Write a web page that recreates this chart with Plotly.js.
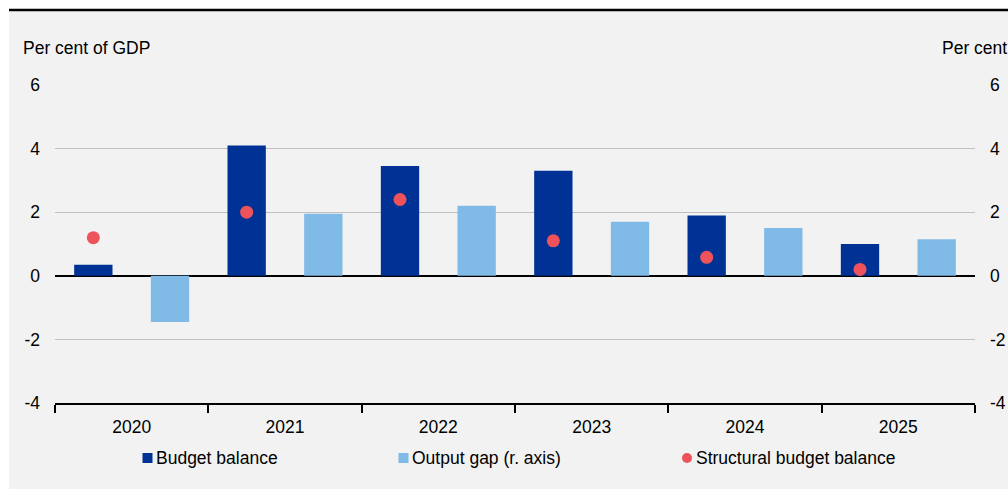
<!DOCTYPE html>
<html>
<head>
<meta charset="utf-8">
<script src="https://cdn.plot.ly/plotly-3.0.1.min.js"></script>
<style>html,body{margin:0;padding:0;background:#fff;}#chart{width:1008px;height:490px;}</style>
</head>
<body>
<div id="chart"></div>
<script>
// ---- data ----
const years = [2020, 2021, 2022, 2023, 2024, 2025];
const budgetBalance = [0.35, 4.1, 3.45, 3.3, 1.9, 1.0];
const outputGap = [-1.45, 1.95, 2.2, 1.7, 1.5, 1.15];
const structuralBalance = [1.2, 2.0, 2.4, 1.1, 0.58, 0.2];
const yTicks = [-4, -2, 0, 2, 4, 6];
const yTickLabels = ['-4', '-2', '0', '2', '4', '6'];
const seriesNames = ['Budget balance', 'Output gap (r. axis)', 'Structural budget balance'];
const axisTitleLeft = 'Per cent of GDP';
const axisTitleRight = 'Per cent';

// ---- style ----
const DARK = '#003296', LIGHT = '#80BAE6', RED = '#EE535B', BG = '#F2F2F2';
const FONT = {family: 'Liberation Sans, Arial, sans-serif', size: 17.5, color: '#000'};
const W = 1008, H = 490, ML = 55, MR = 33, MT = 85, MB = 87;
const PW = W - ML - MR, PH = H - MT - MB;
const px = x => (x - ML) / PW;          // pixel -> paper x
const py = y => (H - MB - y) / PH;      // pixel -> paper y

const traces = [
  {type: 'bar', name: seriesNames[0], x: years, y: budgetBalance, offset: -0.375, width: 0.25,
   marker: {color: DARK}, xaxis: 'x', yaxis: 'y', showlegend: false, hoverinfo: 'x+y'},
  {type: 'bar', name: seriesNames[1], x: years, y: outputGap, offset: 0.125, width: 0.25,
   marker: {color: LIGHT}, xaxis: 'x', yaxis: 'y2', showlegend: false, hoverinfo: 'x+y'},
  {type: 'scatter', mode: 'markers', name: seriesNames[2], x: years.map(v => v - 0.25), y: structuralBalance,
   marker: {color: RED, size: 13}, xaxis: 'x', yaxis: 'y', showlegend: false, cliponaxis: false}
];

const legendItems = [
  {sym: 'square', color: DARK, cx: 147.5, tx: 154, text: seriesNames[0]},
  {sym: 'square', color: LIGHT, cx: 403.5, tx: 410, text: seriesNames[1]},
  {sym: 'circle', color: RED, cx: 687, tx: 694, text: seriesNames[2]}
];
const LEG_Y = 458;

const shapes = [
  {type: 'rect', xref: 'paper', yref: 'paper', x0: px(9), x1: px(1010), y0: py(489), y1: py(10),
   fillcolor: BG, line: {width: 0}, layer: 'below'},
  {type: 'line', xref: 'paper', yref: 'paper', x0: px(9), x1: px(1010), y0: py(10), y1: py(10),
   line: {color: '#000', width: 2.5}}
];
const annotations = [
  {xref: 'paper', yref: 'paper', x: px(21), y: py(48), xanchor: 'left', yanchor: 'middle',
   text: axisTitleLeft, showarrow: false, font: FONT},
  {xref: 'paper', yref: 'paper', x: px(940), y: py(48), xanchor: 'left', yanchor: 'middle',
   text: axisTitleRight, showarrow: false, font: FONT}
];
legendItems.forEach(it => {
  const h = 5;
  shapes.push({type: it.sym === 'circle' ? 'circle' : 'rect', xref: 'paper', yref: 'paper',
    x0: px(it.cx - h), x1: px(it.cx + h), y0: py(LEG_Y + h), y1: py(LEG_Y - h),
    fillcolor: it.color, line: {width: 0}});
  annotations.push({xref: 'paper', yref: 'paper', x: px(it.tx), y: py(LEG_Y), xanchor: 'left', yanchor: 'middle',
    text: it.text, showarrow: false, font: FONT});
});

const layout = {
  width: W, height: H,
  margin: {l: ML, r: MR, t: MT, b: MB, pad: 0},
  paper_bgcolor: '#FFFFFF',
  plot_bgcolor: 'rgba(0,0,0,0)',
  font: FONT,
  showlegend: false,
  barmode: 'overlay',
  xaxis: {
    range: [years[0] - 0.5, years[years.length - 1] + 0.5],
    tickmode: 'array', tickvals: years, ticktext: years.map(String),
    ticks: '', showgrid: false, zeroline: false,
    showline: true, linecolor: '#000', linewidth: 2,
    ticklabelstandoff: 7,
    minor: {tickmode: 'linear', tick0: years[0] - 0.5, dtick: 1, ticks: 'outside', ticklen: 8,
            tickwidth: 2, tickcolor: '#000', showgrid: false},
    fixedrange: true
  },
  yaxis: {
    range: [yTicks[0], yTicks[yTicks.length - 1]],
    tickmode: 'array', tickvals: yTicks, ticktext: yTickLabels, ticks: '',
    showgrid: true, gridcolor: '#BFBFBF', gridwidth: 1,
    zeroline: true, zerolinecolor: '#000', zerolinewidth: 1.5,
    showline: false, ticklabelstandoff: 14, fixedrange: true
  },
  yaxis2: {
    range: [yTicks[0], yTicks[yTicks.length - 1]],
    tickmode: 'array', tickvals: yTicks, ticktext: yTickLabels, ticks: '',
    overlaying: 'y', side: 'right', anchor: 'x',
    showgrid: false, zeroline: false, showline: false,
    ticklabelstandoff: 14, fixedrange: true
  },
  shapes: shapes,
  annotations: annotations
};

Plotly.newPlot('chart', traces, layout, {staticPlot: true, displayModeBar: false});
</script>
</body>
</html>
